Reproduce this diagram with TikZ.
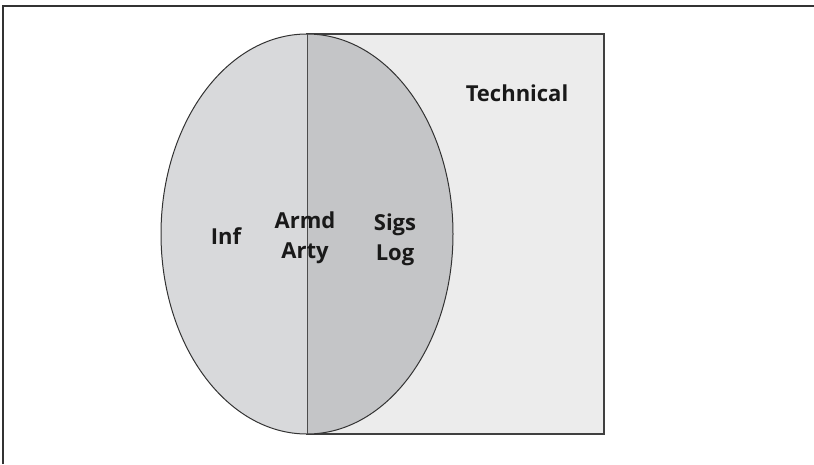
\documentclass[tikz,border=0pt]{standalone}
\usepackage{fontspec}
\setmainfont{Open Sans}
\begin{document}
\begin{tikzpicture}[x=1pt,y=-1pt,
  lbl/.style={font=\bfseries\fontsize{22}{30}\selectfont, text=black!90, align=center, inner sep=0pt},
  outline/.style={draw=black!80, line width=1pt}]
\definecolor{leftgray}{HTML}{D8D9DB}
\definecolor{rightgray}{HTML}{C4C5C7}
\definecolor{techgray}{HTML}{ECECEC}
\useasboundingbox (0,0) rectangle (814,464);
% frame edges
\draw[black!80, line width=1.6pt] (3,464) -- (3,6) -- (814,6);
% technical area
\draw[draw=black!75, line width=1.2pt, fill=techgray] (307,34) rectangle (604,434);
% the two halves of the ellipse
\begin{scope}
  \clip (161,30) rectangle (307,440);
  \fill[leftgray] (307,234) ellipse [x radius=146, y radius=200];
\end{scope}
\begin{scope}
  \clip (307,30) rectangle (455,440);
  \fill[rightgray] (307,234) ellipse [x radius=146, y radius=200];
\end{scope}
\draw[outline] (307,234) ellipse [x radius=146, y radius=200];
\draw[black!70, line width=1pt] (307,34) -- (307,434);
% labels
\node[lbl] (tech) at (517,93) {Technical};
\node[lbl] (inf) at (226,236) {Inf};
\node[lbl] (armd) at (305,238) {Armd\\Arty};
\node[lbl] (sigs) at (395,240) {Sigs\\Log};
\end{tikzpicture}
\end{document}
